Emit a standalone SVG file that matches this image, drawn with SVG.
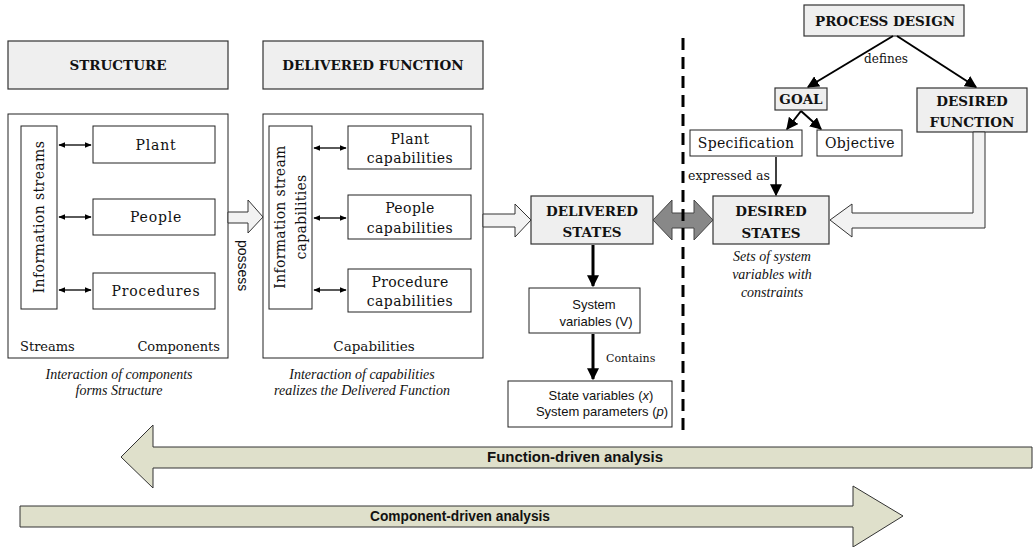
<svg xmlns="http://www.w3.org/2000/svg" width="1034" height="547" viewBox="0 0 1034 547">
<defs>
<style>
.box{fill:#fff;stroke:#222;stroke-width:1}
.hdr{fill:#efefef;stroke:#333;stroke-width:1.2}
.t{font-family:"DejaVu Serif",serif;font-size:14px;fill:#111}
.b{font-family:"DejaVu Serif",serif;font-size:13.5px;font-weight:bold;fill:#111}
.i{font-family:"Liberation Serif",serif;font-size:14px;font-style:italic;fill:#111}
.s{font-family:"Liberation Sans",sans-serif;font-size:13px;fill:#111}
.g{font-family:"Liberation Sans",sans-serif;font-size:14px;font-weight:bold;fill:#111}
.blk{fill:none;stroke:#000;stroke-width:1.3}
.bigarr{fill:#f2f2f2;stroke:#333;stroke-width:1}
.ana{fill:#dfe0cb;stroke:#333;stroke-width:1}
</style>
<marker id="ah" viewBox="0 0 10 10" refX="9" refY="5" markerWidth="7" markerHeight="7" orient="auto-start-reverse" markerUnits="userSpaceOnUse"><path d="M0,1 L10,5 L0,9 z" fill="#000"/></marker>
<marker id="ah2" viewBox="0 0 10 10" refX="9" refY="5" markerWidth="12" markerHeight="12" orient="auto" markerUnits="userSpaceOnUse"><path d="M0,0 L10,5 L0,10 z" fill="#000"/></marker>
</defs>

<g id="structure-header"><rect class="hdr" x="8" y="41" width="220" height="48"/><text class="b" x="118" y="70" text-anchor="middle">STRUCTURE</text></g>
<g id="delivered-function-header"><rect class="hdr" x="263" y="41" width="220" height="48"/><text class="b" x="373" y="70" text-anchor="middle">DELIVERED FUNCTION</text></g>

<g id="structure">
<rect class="box" x="8" y="114" width="220" height="244"/>
<text class="t" x="20" y="351" style="font-size:13px">Streams</text>
<text class="t" x="220" y="351" style="font-size:13px" text-anchor="end">Components</text>
</g>
<g id="info-streams"><rect class="box" x="21" y="126" width="36" height="183"/><text class="t" transform="translate(44,217) rotate(-90)" text-anchor="middle" letter-spacing="0.4">Information streams</text></g>
<g id="plant"><rect class="box" x="93" y="126" width="122" height="37"/><text class="t" x="156" y="150" text-anchor="middle" letter-spacing="0.8">Plant</text></g>
<g id="people"><rect class="box" x="93" y="199" width="122" height="36"/><text class="t" x="156" y="222" text-anchor="middle" letter-spacing="0.8">People</text></g>
<g id="procedures"><rect class="box" x="93" y="273" width="122" height="36"/><text class="t" x="156" y="296" text-anchor="middle" letter-spacing="0.8">Procedures</text></g>
<g id="structure-caption"><text class="i" x="119" y="379" text-anchor="middle">Interaction of components</text><text class="i" x="119" y="395" text-anchor="middle">forms Structure</text></g>

<g id="delivered-function">
<rect class="box" x="263" y="114" width="220" height="244"/>
<text class="t" x="374" y="351" style="font-size:13.5px" text-anchor="middle">Capabilities</text>
</g>
<g id="info-stream-cap"><rect class="box" x="269" y="126" width="43" height="183"/><text class="t" transform="translate(285,217) rotate(-90)" text-anchor="middle" letter-spacing="0.3">Information stream</text><text class="t" transform="translate(306,217) rotate(-90)" text-anchor="middle" letter-spacing="0.3">capabilities</text></g>
<g id="plant-cap"><rect class="box" x="348" y="126" width="123" height="43"/><text class="t" x="410" y="144" text-anchor="middle" letter-spacing="0.4">Plant</text><text class="t" x="410" y="163" text-anchor="middle" letter-spacing="0.4">capabilities</text></g>
<g id="people-cap"><rect class="box" x="348" y="195" width="123" height="44"/><text class="t" x="410" y="213" text-anchor="middle" letter-spacing="0.4">People</text><text class="t" x="410" y="233" text-anchor="middle" letter-spacing="0.4">capabilities</text></g>
<g id="procedure-cap"><rect class="box" x="348" y="269" width="123" height="43"/><text class="t" x="410" y="287" text-anchor="middle" letter-spacing="0.4">Procedure</text><text class="t" x="410" y="306" text-anchor="middle" letter-spacing="0.4">capabilities</text></g>
<g id="function-caption"><text class="i" x="362" y="379" text-anchor="middle">Interaction of capabilities</text><text class="i" x="362" y="395" text-anchor="middle">realizes the Delivered Function</text></g>

<g id="delivered-states"><rect class="hdr" x="531" y="196" width="122" height="48"/><text class="b" x="592" y="216" text-anchor="middle">DELIVERED</text><text class="b" x="592" y="237" text-anchor="middle">STATES</text></g>
<g id="system-variables"><rect class="box" x="529" y="288" width="111" height="45"/><text class="s" x="594" y="309" text-anchor="middle">System</text><text class="s" x="596" y="326" text-anchor="middle">variables (V)</text></g>
<g id="state-variables"><rect class="box" x="508" y="381" width="164" height="46"/><text class="s" x="601" y="400" text-anchor="middle">State variables (<tspan font-style="italic">x</tspan>)</text><text class="s" x="602" y="416" text-anchor="middle">System parameters (<tspan font-style="italic">p</tspan>)</text></g>

<g id="process-design"><rect class="hdr" x="804" y="5" width="160" height="31"/><text class="b" x="885" y="26" text-anchor="middle">PROCESS DESIGN</text></g>
<g id="goal"><rect class="hdr" x="775" y="88" width="52" height="22"/><text class="b" x="801" y="104" text-anchor="middle">GOAL</text></g>
<g id="desired-function"><rect class="hdr" x="917" y="88" width="110" height="44"/><text class="b" x="972" y="106" text-anchor="middle">DESIRED</text><text class="b" x="972" y="127" text-anchor="middle">FUNCTION</text></g>
<g id="specification"><rect class="box" x="690" y="130" width="112" height="26"/><text class="t" x="746" y="148" text-anchor="middle" letter-spacing="0.3">Specification</text></g>
<g id="objective"><rect class="box" x="817" y="130" width="85" height="26"/><text class="t" x="860" y="148" text-anchor="middle" letter-spacing="0.3">Objective</text></g>
<g id="desired-states"><rect class="hdr" x="713" y="196" width="116" height="48"/><text class="b" x="771" y="216" text-anchor="middle">DESIRED</text><text class="b" x="771" y="238" text-anchor="middle">STATES</text></g>
<g id="desired-caption"><text class="i" x="772" y="261" text-anchor="middle">Sets of system</text><text class="i" x="772" y="279" text-anchor="middle">variables with</text><text class="i" x="772" y="297" text-anchor="middle">constraints</text></g>

<g id="connectors">
<line class="blk" x1="59" y1="145" x2="91" y2="145" marker-start="url(#ah)" marker-end="url(#ah)"/>
<line class="blk" x1="59" y1="217" x2="91" y2="217" marker-start="url(#ah)" marker-end="url(#ah)"/>
<line class="blk" x1="59" y1="290" x2="91" y2="290" marker-start="url(#ah)" marker-end="url(#ah)"/>
<line class="blk" x1="314" y1="148" x2="346" y2="148" marker-start="url(#ah)" marker-end="url(#ah)"/>
<line class="blk" x1="314" y1="218" x2="346" y2="218" marker-start="url(#ah)" marker-end="url(#ah)"/>
<line class="blk" x1="314" y1="290" x2="346" y2="290" marker-start="url(#ah)" marker-end="url(#ah)"/>

<path class="bigarr" d="M228,212 L248,212 L248,200 L263,217 L248,233 L248,223 L228,223 Z"/>
<text transform="translate(238,240) rotate(90)" style="font-family:'Liberation Sans',sans-serif;font-size:14px;fill:#111">possess</text>

<path class="bigarr" d="M483,214 L515,214 L515,204 L531,220 L515,237 L515,227 L483,227 Z"/>

<path d="M653,220 L672,200 L672,213 L694,213 L694,200 L713,220 L694,240 L694,228 L672,228 L672,240 Z" fill="#888" stroke="#444" stroke-width="1"/>

<line x1="683" y1="38" x2="683" y2="432" stroke="#000" stroke-width="3" stroke-dasharray="12,7"/>

<line x1="593" y1="245" x2="593" y2="286" stroke="#000" stroke-width="3" marker-end="url(#ah2)"/>
<line x1="593" y1="334" x2="593" y2="379" stroke="#000" stroke-width="3" marker-end="url(#ah2)"/>
<text class="t" x="606" y="362" style="font-size:11px">Contains</text>

<line x1="893" y1="36" x2="808" y2="87" stroke="#000" stroke-width="2" marker-end="url(#ah2)"/>
<line x1="897" y1="36" x2="976" y2="87" stroke="#000" stroke-width="2" marker-end="url(#ah2)"/>
<text class="t" x="886" y="63" text-anchor="middle" style="font-size:12px">defines</text>
<line x1="801" y1="111" x2="787" y2="129" stroke="#000" stroke-width="2" marker-end="url(#ah2)"/>
<line x1="801" y1="111" x2="821" y2="129" stroke="#000" stroke-width="2" marker-end="url(#ah2)"/>
<line x1="776" y1="157" x2="776" y2="195" stroke="#000" stroke-width="1.5" marker-end="url(#ah2)"/>
<text class="t" x="688" y="180" style="font-size:12.5px">expressed as</text>

<path class="bigarr" d="M973,132 L985,132 L985,228 L852,228 L852,237 L830,220 L852,204 L852,213 L973,213 Z"/>

<path class="ana" d="M1032,447 L153,447 L153,425 L121,457 L153,488 L153,468 L1032,468 Z"/>
<text class="g" x="487" y="462" textLength="176" lengthAdjust="spacingAndGlyphs">Function-driven analysis</text>
<path class="ana" d="M20,506 L853,506 L853,486 L903,516 L853,547 L853,527 L20,527 Z"/>
<text class="g" x="370" y="521" textLength="180" lengthAdjust="spacingAndGlyphs">Component-driven analysis</text>
</g>
</svg>
